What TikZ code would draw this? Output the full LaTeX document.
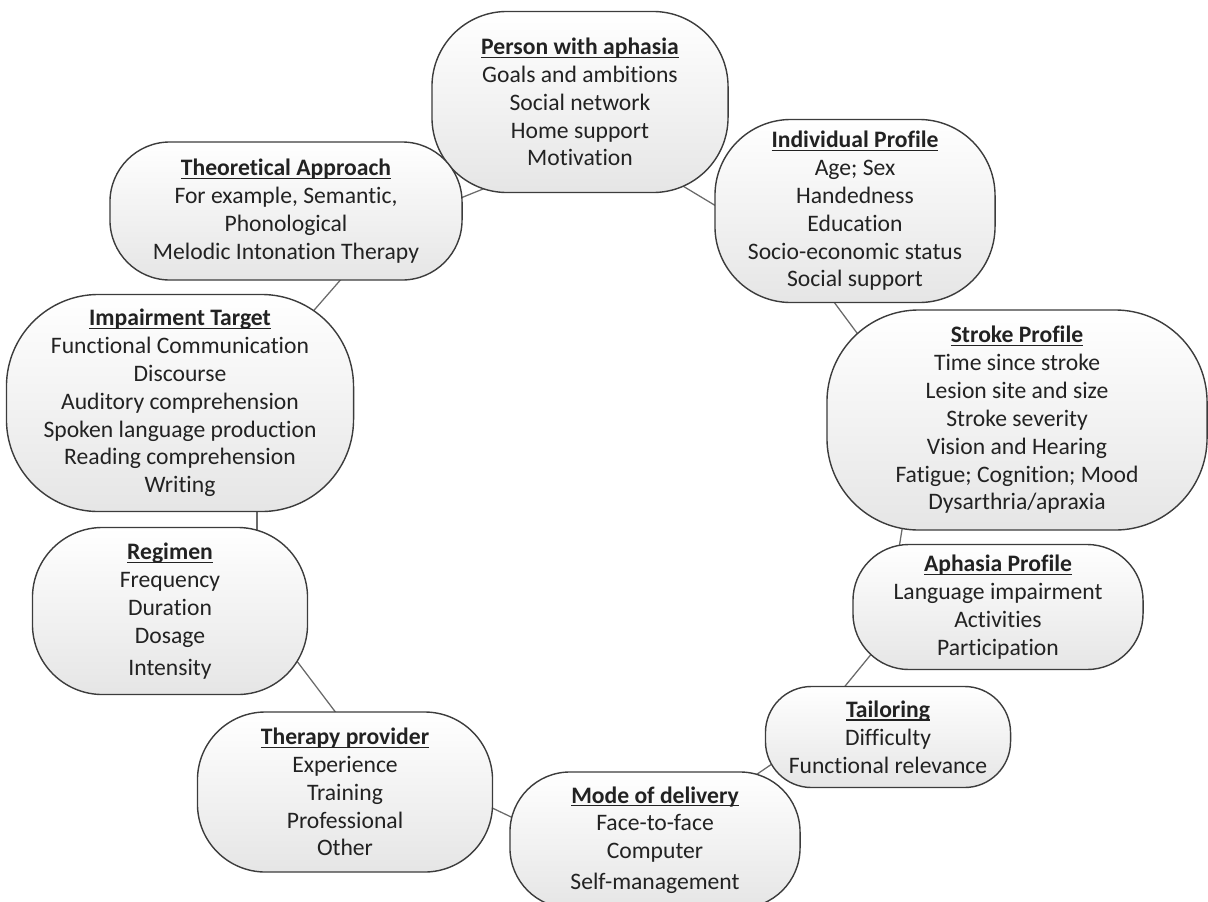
\documentclass[tikz,border=0pt]{standalone}
\usepackage{fontspec}
\setmainfont{Carlito}[Ligatures=NoCommon]
\usepackage{tikz}
\usepackage{xcolor}
\usetikzlibrary{backgrounds}
\definecolor{rimgray}{HTML}{3C3C3C}
\definecolor{linkgray}{HTML}{6A6A6A}
\definecolor{inkgray}{HTML}{222222}
\newcommand{\headline}[1]{\setbox0\hbox{\textbf{#1}}\rlap{\rule[-2.3pt]{\wd0}{0.8pt}}\box0}
\tikzset{%
  bubble/.style={draw=rimgray, line width=1pt, top color=white, bottom color=black!10,
    align=center, inner sep=0pt, text=inkgray, rounded corners=#1,
    font=\fontsize{16.8}{19.8}\selectfont},
  link/.style={draw=linkgray, line width=0.9pt}
}

\begin{document}
\begin{tikzpicture}[x=0.025cm,y=-0.025cm]
	\useasboundingbox (0,0) rectangle (1208,901);
	% ring of factors, clockwise from the top
	\node[bubble=1.875cm, minimum width=7.4cm, minimum height=4.525cm] (pwa) at (580,102)
	  {\headline{Person with aphasia}\\ Goals and ambitions\\ Social network\\ Home support\\ Motivation};
	\node[bubble=1.9cm, minimum width=7.0cm, minimum height=4.575cm] (ind) at (855,211)
	  {\headline{Individual Profile}\\ Age; Sex\\ Handedness\\ Education\\ Socio-economic status\\ Social support};
	\node[bubble=2.3cm, minimum width=9.5cm, minimum height=5.5cm] (stroke) at (1017,420)
	  {\headline{Stroke Profile}\\ Time since stroke\\ Lesion site and size\\ Stroke severity\\ Vision and Hearing\\ Fatigue; Cognition; Mood\\ Dysarthria/apraxia};
	\node[bubble=1.4cm, minimum width=7.25cm, minimum height=3.125cm] (aph) at (998,607)
	  {\headline{Aphasia Profile}\\ Language impairment\\ Activities\\ Participation};
	\node[bubble=1.15cm, minimum width=6.125cm, minimum height=2.525cm] (tail) at (888,737)
	  {\headline{Tailoring}\\ Difficulty\\ Functional relevance};
	\node[bubble=1.5cm, minimum width=7.25cm, minimum height=3.4cm] (mode) at (655,840)
	  {\headline{Mode of delivery}\\ Face-to-face\\ Computer\\[2pt] Self-management};
	\node[bubble=1.7cm, minimum width=7.375cm, minimum height=4.0cm] (ther) at (345,792)
	  {\headline{Therapy provider}\\ Experience\\ Training\\ Professional\\ Other};
	\node[bubble=1.75cm, minimum width=6.875cm, minimum height=4.175cm] (reg) at (170,611)
	  {\headline{Regimen}\\ Frequency\\ Duration\\ Dosage\\[3pt] Intensity};
	\node[bubble=2.3cm, minimum width=8.675cm, minimum height=5.425cm] (imp) at (180,403)
	  {\headline{Impairment Target}\\ Functional Communication\\ Discourse\\ Auditory comprehension\\ Spoken language production\\ Reading comprehension\\ Writing};
	\node[bubble=1.5cm, minimum width=8.8cm, minimum height=3.45cm] (theo) at (286,211)
	  {\headline{Theoretical Approach}\\ For example, Semantic,\\ Phonological\\ Melodic Intonation Therapy};
	% links behind the bubbles
	\begin{scope}[on background layer]
	\draw[link] ([shift={(-22,-5)}]theo.east) -- ([shift={(-80,-11)}]pwa.south);
	\draw[link] ([shift={(80,-21)}]pwa.south) -- ([shift={(25,9)}]ind.west);
	\draw[link] ([shift={(-35,-20)}]ind.south) -- ([shift={(48,47)}]stroke.north west);
	\draw[link] ([shift={(78,-15)}]stroke.south west) -- ([shift={(45,15)}]aph.north west);
	\draw[link] ([shift={(32,-32)}]aph.south west) -- ([shift={(65,19)}]tail.north west);
	\draw[link] ([shift={(20,-33)}]tail.south west) -- ([shift={(-60,14)}]mode.north east);
	\draw[link] ([shift={(25,-12)}]mode.west) -- ([shift={(-22,6)}]ther.east);
	\draw[link] ([shift={(5,20)}]ther.north) -- ([shift={(-22,36)}]reg.east);
	\draw[link] ([shift={(87,17)}]reg.north) -- ([shift={(77,-17)}]imp.south);
	\draw[link] ([shift={(110,44)}]imp.north) -- ([shift={(66,-14)}]theo.south);
	\end{scope}
\end{tikzpicture}
\end{document}
